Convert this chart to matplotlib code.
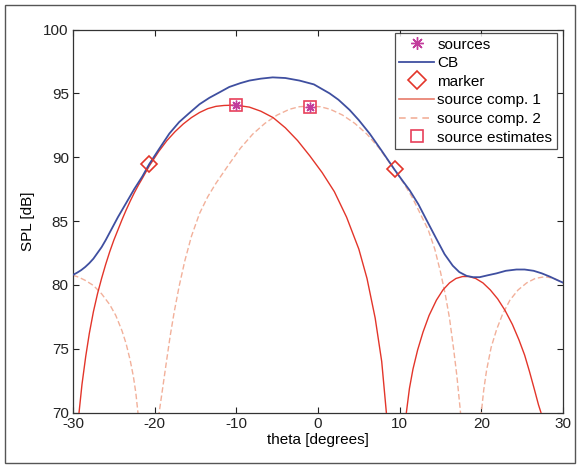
import numpy as np
import matplotlib
matplotlib.use("Agg")
import matplotlib.pyplot as plt
from matplotlib.patches import Rectangle
from matplotlib.lines import Line2D

plt.rcParams['font.family'] = ['Liberation Sans', 'DejaVu Sans']
plt.rcParams['axes.unicode_minus'] = False

# ---- data ----
cb_theta = [-30, -29.5, -29, -28.5, -28, -27.5, -27, -26.5, -26, -25.5, -25, -24.5, -24,
            -23.5, -23, -22.5, -21.5, -20.67, -19.5, -18.2, -17, -15.77, -14.5, -13.3, -12,
            -10.86, -9.5, -8.4, -7, -5.55, -4, -2.27, -0.5, 1.41, 2.5, 3.87, 5, 6.32, 7.8,
            9.4, 10.3, 11.23, 12.3, 13.27, 14.5, 15.5, 16.5, 17.3, 18.2, 19.0, 19.8, 20.8,
            21.87, 23, 24.3, 25.3, 26.4, 27.4, 28.4, 29.2, 30]
cb_spl = [80.78, 80.95, 81.15, 81.4, 81.7, 82.05, 82.5, 82.95, 83.5, 84.1, 84.7, 85.3, 85.85,
          86.4, 86.95, 87.5, 88.5, 89.45, 90.6, 91.85, 92.75, 93.45, 94.15, 94.65, 95.1,
          95.5, 95.8, 96.0, 96.15, 96.25, 96.2, 96.0, 95.7, 95.0, 94.5, 93.7, 92.9, 91.85, 90.5,
          89.0, 88.2, 87.4, 86.3, 85.1, 83.6, 82.4, 81.5, 81.0, 80.7, 80.6, 80.6, 80.75,
          80.9, 81.1, 81.2, 81.2, 81.1, 80.9, 80.64, 80.4, 80.17]

c1_theta = [-29.55, -29.26, -28.9, -28.44, -28.0, -27.5, -27.0, -26.5, -26.0, -25.5, -25.0,
            -24.5, -24.0, -23.5, -23.0, -22.5, -22.0, -21.5, -20.67, -19.5, -18.5, -17.5,
            -16.5, -15.5, -14.5, -13.5, -12.5, -11.5, -10.5, -9.5, -8.4, -7, -5.5, -4, -2.5,
            -1, 0.5, 2, 3.5, 5, 6, 7, 7.8, 8.37, 8.6,
            np.nan,
            10.6, 10.82, 11.2, 11.63, 12.2, 12.86, 13.6, 14.5, 15.3, 16.1, 16.9, 17.7, 18.5,
            19.3, 20.2, 21.1, 22.0, 22.9, 23.8, 24.6, 25.3, 25.9, 26.5, 27.0, 27.3, 27.6]
c1_spl = [67, 70, 72.2, 74.4, 76.2, 77.9, 79.3, 80.5, 81.6, 82.6, 83.5,
          84.3, 85.1, 85.85, 86.55, 87.2, 87.8, 88.35, 89.3, 90.45, 91.3, 92.0,
          92.6, 93.1, 93.5, 93.8, 93.98, 94.05, 94.07, 94.02, 93.92, 93.6, 93.1, 92.3, 91.3,
          90.1, 88.8, 87.3, 85.3, 82.8, 80.5, 77.4, 74.0, 70.0, 67,
          np.nan,
          67, 70, 71.9, 73.4, 74.9, 76.3, 77.6, 78.8, 79.6, 80.15, 80.5, 80.65, 80.65,
          80.5, 80.15, 79.6, 78.9, 78.0, 76.9, 75.7, 74.5, 73.2, 71.8, 70.6, 70.0, 68]

c2_theta = [-30, -29.3, -28.5, -27.5, -26.5, -25.5, -24.76, -24.0, -23.5, -23.0, -22.6,
            -22.3, -22.05, -21.85,
            np.nan,
            -19.7, -19.45, -19.0, -18.6, -18.1, -17.6, -17.0, -16.3, -15.5, -14.5, -13.5,
            -12.5, -11.0, -9.5, -8.0, -6.5, -5.0, -3.5, -2.3, -1.0, 0.3, 1.5, 3.0, 4.5,
            6.0, 7.5, 9.0, 10.5, 11.5, 12.5, 13.5, 14.3, 15.0, 15.6, 16.1, 16.6, 17.0,
            17.45, 17.7,
            np.nan,
            19.85, 20.0, 20.3, 20.64, 21.2, 21.87, 22.6, 23.5, 24.5, 25.55, 26.6, 27.8,
            28.9, 30]
c2_spl = [80.75, 80.6, 80.35, 79.95, 79.3, 78.45, 77.6, 76.4, 75.4, 74.1, 72.8,
          71.5, 70.0, 67,
          np.nan,
          67, 70.0, 72.0, 73.8, 76.0, 77.9, 79.9, 81.9, 83.8, 85.6, 86.9,
          87.95, 89.35, 90.7, 91.8, 92.65, 93.3, 93.75, 93.95, 94.0, 93.95, 93.75, 93.3, 92.65,
          91.8, 90.7, 89.35, 87.95, 86.9, 85.6, 84.3, 82.8, 81.0, 79.2, 77.4, 75.0, 72.9,
          70.0, 67,
          np.nan,
          67, 70, 71.8, 73.3, 75.1, 76.5, 77.7, 78.8, 79.6, 80.15, 80.5, 80.64,
          80.5, 80.17]

src_theta = [-10, -1]
src_spl = [94.05, 93.95]
est_theta = [-10, -1]
est_spl = [94.05, 93.95]
mark_theta = [-20.67, 9.4]
mark_spl = [89.5, 89.1]

x_ticks = [-30, -20, -10, 0, 10, 20, 30]
y_ticks = [70, 75, 80, 85, 90, 95, 100]

# ---- figure ----
W, H = 579, 468
fig = plt.figure(figsize=(W / 100, H / 100), dpi=100)
ax = fig.add_axes([73 / W, 1 - 412.5 / H, (563 - 73) / W, (412.5 - 29.5) / H])

blue = '#3f4fa0'
red = '#e3352a'
pink = '#f2b09a'
mag = '#c23c9c'
sq = '#e8405a'

ax.plot(c2_theta, c2_spl, color=pink, lw=1.0, ls=(0, (4, 2)), zorder=2)
ax.plot(c1_theta, c1_spl, color=red, lw=1.0, zorder=3)
ax.plot(cb_theta, cb_spl, color=blue, lw=1.3, zorder=4)
ax.plot(mark_theta, mark_spl, ls='none', marker='D', ms=8.6, mfc='none', mec=red, mew=1.2, zorder=5)
ax.plot(est_theta, est_spl, ls='none', marker='s', ms=9.0, mfc='none', mec=sq, mew=1.2, zorder=5)
ax.plot(src_theta, src_spl, ls='none', marker=(8, 2, 0), ms=7, mec=mag, mew=1.0, zorder=6)

ax.set_xlim(-30, 30)
ax.set_ylim(70, 100)
ax.set_xticks(x_ticks)
ax.set_yticks(y_ticks)
ax.tick_params(direction='in', top=True, right=True, length=4, width=0.8,
               labelsize=11, colors='#222222', pad=3)
for s in ax.spines.values():
    s.set_color('#333333')
    s.set_linewidth(0.9)
ax.set_xlabel('theta [degrees]', fontsize=11, labelpad=2)
ax.set_ylabel('SPL [dB]', fontsize=11, labelpad=6)

handles = [
    Line2D([], [], ls='none', marker=(8, 2, 0), ms=9, mec=mag, mew=1.0),
    Line2D([], [], color=blue, lw=1.3),
    Line2D([], [], ls='none', marker='D', ms=9, mfc='none', mec=red, mew=1.2),
    Line2D([], [], color='#e87a6a', lw=1.2),
    Line2D([], [], color=pink, lw=1.2, ls=(0, (4, 3))),
    Line2D([], [], ls='none', marker='s', ms=9, mfc='none', mec=sq, mew=1.2),
]
labels = ['sources', 'CB', 'marker', 'source comp. 1', 'source comp. 2', 'source estimates']
leg = ax.legend(handles, labels, loc='upper right',
                bbox_to_anchor=(1 - 6 / 490, 1 - 3.5 / 383), borderaxespad=0,
                fontsize=11, frameon=True, fancybox=False, handlelength=2.3,
                handletextpad=0.2, labelspacing=0.3, borderpad=0.3)
leg.get_frame().set_edgecolor('#222222')
leg.get_frame().set_linewidth(0.9)

fig.patches.append(Rectangle((5 / W, 1 - 463 / H), (575 - 5) / W, (463 - 5) / H,
                             transform=fig.transFigure, fill=False,
                             edgecolor='#555555', lw=1.0))

fig.savefig('out.png', dpi=100)
